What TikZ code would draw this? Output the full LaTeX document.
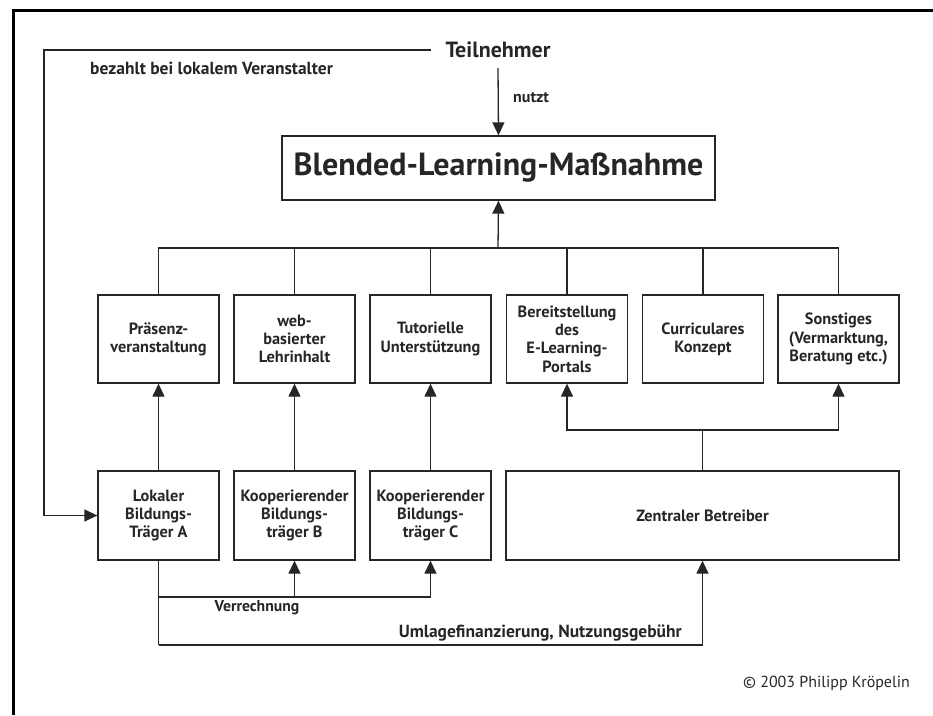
\documentclass[tikz,border=0pt]{standalone}
\usepackage{fontspec}
\setmainfont{PT Sans}
\usetikzlibrary{arrows.meta}
\definecolor{ink}{HTML}{262626}
\begin{document}
\begin{tikzpicture}[x=1pt,y=-1pt,
  line/.style={draw=ink,line width=1.3pt},
  arr/.style={line,-{Triangle[length=13pt,width=12pt]}},
  box/.style={draw=ink,line width=1.3pt,minimum width=121pt,minimum height=88pt,
    align=center,text=ink,font=\bfseries\fontsize{16.3}{18.3}\selectfont,inner sep=0pt},
  lbl/.style={text=ink,font=\bfseries\fontsize{16}{18}\selectfont,inner sep=0pt},
  widelbl/.style={lbl,font=\bfseries\fontsize{17.5}{19}\selectfont}]
\useasboundingbox (0,0) rectangle (933,715);
% partial frame (top and left)
\draw[line width=3pt,black] (13,715) -- (13,10) -- (933,10);

% participant and the measure
\node[text=ink,font=\bfseries\fontsize{22}{26}\selectfont,inner sep=0pt,
      minimum width=134pt,minimum height=36pt] (tn) at (498,50) {Teilnehmer};
\node[draw=ink,line width=1.3pt,minimum width=433pt,minimum height=64pt,text=ink,
      font=\bfseries\fontsize{32}{36}\selectfont] (bl) at (498.5,168) {Blended-Learning-Maßnahme};

% service components
\node[box] (p1) at (158.5,339) {Präsenz-\\veranstaltung};
\node[box] (p2) at (294.5,339) {web-\\basierter\\Lehrinhalt};
\node[box] (p3) at (430.5,339) {Tutorielle\\Unterstützung};
\node[box] (p4) at (567,339) {Bereitstellung\\des\\E-Learning-\\Portals};
\node[box] (p5) at (703,339) {Curriculares\\Konzept};
\node[box] (p6) at (838.5,339) {Sonstiges\\(Vermarktung,\\Beratung etc.)};

% providers
\node[box,minimum height=89pt] (la) at (158.5,515.5) {Lokaler\\Bildungs-\\Träger A};
\node[box,minimum height=89pt] (kb) at (294.5,515.5) {Kooperierender\\Bildungs-\\träger B};
\node[box,minimum height=89pt] (kc) at (430.5,515.5) {Kooperierender\\Bildungs-\\träger C};
\node[box,minimum width=393pt,minimum height=89pt] (zb) at (702.5,515.5) {Zentraler Betreiber};

% helper points
\coordinate (bus) at (498,248);
\coordinate (loop) at (44,515.5);
\coordinate (zc) at (702.5,430);
\coordinate (vr) at (158.5,597);
\coordinate (um) at (158.5,645);

% participant uses the measure
\draw[arr] (tn.south) -- (bl.north);
\node[lbl,anchor=west] (nu) at (513,98) {nutzt};

% pays the local organiser
\draw[arr] (tn.west) -| (loop) -- (la.west);
\node[widelbl,anchor=west] (bz) at (90,68) {bezahlt bei lokalem Veranstalter};

% components make up the measure
\draw[line] (p1.north) |- (bus) -| (p6.north);
\foreach \n in {p2,p3,p4,p5} \draw[line] (\n.north) -- (\n.north |- bus);
\draw[arr] (bus) -- (bl.south);

% providers deliver components
\draw[arr] (la.north) -- (p1.south);
\draw[arr] (kb.north) -- (p2.south);
\draw[arr] (kc.north) -- (p3.south);
\draw[line] (zb.north) -- (zc);
\draw[arr] (zc) -| (p4.south);
\draw[arr] (zc) -| (p6.south);

% money flows
\draw[line] (la.south) -- (um);
\draw[arr] (vr) -| (kb.south);
\draw[arr] (vr) -| (kc.south);
\draw[arr] (um) -| (zb.south);
\node[lbl,font=\bfseries\fontsize{15.7}{18}\selectfont] (ve) at (257,608) {Verrechnung};
\node[widelbl,anchor=east] (ug) at (682,633) {Umlagefinanzierung, Nutzungsgebühr};

% copyright
\node[text=ink,font=\fontsize{16}{18}\selectfont,inner sep=0pt,anchor=east] (cp) at (910,683) {© 2003 Philipp Kröpelin};
\end{tikzpicture}
\end{document}
